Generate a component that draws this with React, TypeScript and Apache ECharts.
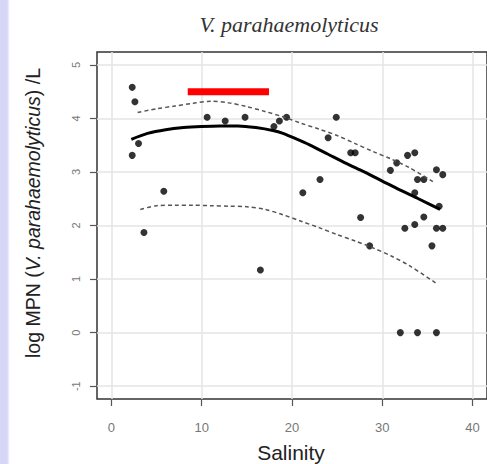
import React, { useEffect, useRef } from "react";
import * as echarts from "echarts";

// Observed samples
const salinity = [2.3, 2.6, 3.0, 2.3, 3.6, 5.8, 10.6, 12.6, 14.8, 16.5, 18.0, 18.6, 19.4, 21.2, 23.1, 24.0, 24.9, 26.5, 27.0, 27.6, 28.6, 30.9, 31.6, 32.0, 32.5, 32.8, 33.6, 33.6, 33.6, 33.9, 33.9, 34.6, 34.6, 35.5, 36.0, 36.0, 36.0, 36.3, 36.7, 36.7];
const logMPN = [4.58, 4.31, 3.53, 3.31, 1.87, 2.64, 4.02, 3.95, 4.02, 1.17, 3.85, 3.95, 4.02, 2.61, 2.86, 3.64, 4.02, 3.36, 3.36, 2.15, 1.62, 3.03, 3.17, 0, 1.95, 3.31, 3.36, 2.61, 2.02, 0, 2.86, 2.86, 2.16, 1.62, 3.04, 1.95, 0, 2.36, 2.95, 1.95];

// Smoothed fit
const fitX = [2.2, 4, 6, 8, 10, 12, 14, 16, 18, 19, 20, 22, 24, 26, 28, 30, 32, 34, 36.4];
const fitY = [3.61, 3.72, 3.79, 3.83, 3.85, 3.86, 3.86, 3.83, 3.77, 3.72, 3.65, 3.50, 3.33, 3.16, 3.0, 2.83, 2.66, 2.50, 2.30];

// Upper band
const upperX = [2.9, 5, 7, 9, 11, 13, 15, 17, 19, 21, 23, 25, 27, 29, 31, 33, 35.6];
const upperY = [4.11, 4.18, 4.23, 4.28, 4.32, 4.29, 4.22, 4.13, 4.03, 3.91, 3.80, 3.68, 3.53, 3.38, 3.24, 3.08, 2.82];

// Lower band
const lowerX = [3.2, 5, 7, 9, 11, 13, 15, 17, 19, 21, 23, 25, 27, 29, 31, 33, 35.9];
const lowerY = [2.30, 2.37, 2.38, 2.38, 2.37, 2.36, 2.35, 2.30, 2.20, 2.08, 1.96, 1.83, 1.71, 1.58, 1.43, 1.25, 0.93];

// Red highlight bar
const markX = [8.45, 17.45];
const markY = [4.5, 4.5];

const xTicks = [0, 10, 20, 30, 40];
const yTicks = [-1, 0, 1, 2, 3, 4, 5];

const zip = (a: number[], b: number[]) => a.map((v, i) => [v, b[i]]);

const SANS = '"Liberation Sans", Arial, sans-serif';
const SERIF = '"Liberation Serif", "Times New Roman", serif';

export default function App() {
  const ref = useRef<HTMLDivElement>(null);
  useEffect(() => {
    if (!ref.current) return;
    const chart = echarts.init(ref.current, undefined, { renderer: "svg" });
    chart.setOption({
      animation: false,
      backgroundColor: "transparent",
      grid: {
        left: 97,
        top: 52,
        width: 399,
        height: 347,
        show: true,
        borderColor: "#333",
        borderWidth: 1.5,
        backgroundColor: "transparent",
      },
      xAxis: {
        type: "value",
        min: -1.6,
        max: 41.6,
        splitNumber: 5,
        axisLine: { show: false, onZero: false },
        axisTick: { show: true, length: 7, customValues: xTicks, lineStyle: { color: "#555", width: 1.2 } },
        axisLabel: { customValues: xTicks, color: "#777", fontSize: 13, fontFamily: SANS, margin: 22 },
        splitLine: { show: true, lineStyle: { color: "#e4e4e4", width: 1.5 } },
      },
      yAxis: {
        type: "value",
        min: -1.24,
        max: 5.24,
        splitNumber: 6,
        axisLine: { show: false, onZero: false },
        axisTick: { show: true, length: 7, customValues: yTicks, lineStyle: { color: "#555", width: 1.2 } },
        axisLabel: {
          customValues: yTicks,
          color: "#777",
          fontSize: 11,
          fontFamily: SANS,
          margin: 16,
          rotate: 90,
          align: "center",
          verticalAlign: "bottom",
        },
        splitLine: { show: true, lineStyle: { color: "#e4e4e4", width: 1.5 } },
      },
      graphic: [
        {
          type: "text",
          x: 289,
          y: 24,
          style: { text: "V. parahaemolyticus", font: `italic 22px ${SERIF}`, fill: "#333", align: "center", verticalAlign: "middle" },
        },
        {
          type: "text",
          x: 33,
          y: 213,
          rotation: Math.PI / 2,
          style: {
            text: "log MPN ({i|V. parahaemolyticus}) /L",
            fontSize: 19.5,
            fontFamily: SANS,
            fill: "#222",
            align: "center",
            verticalAlign: "middle",
            rich: { i: { fontStyle: "italic", fontSize: 19.5, fontFamily: SANS, fill: "#222" } },
          },
        },
        {
          type: "text",
          x: 291,
          y: 452,
          style: { text: "Salinity", fontSize: 21, fontFamily: SANS, fill: "#222", align: "center", verticalAlign: "middle" },
        },
      ],
      series: [
        {
          type: "scatter",
          data: zip(salinity, logMPN),
          symbol: "circle",
          symbolSize: 7,
          itemStyle: { color: "#000" },
          silent: true,
        },
        {
          type: "line",
          data: zip(upperX, upperY),
          showSymbol: false,
          smooth: 0.3,
          lineStyle: { color: "#555", width: 1.5, type: [4, 3] },
          silent: true,
        },
        {
          type: "line",
          data: zip(lowerX, lowerY),
          showSymbol: false,
          smooth: 0.3,
          lineStyle: { color: "#555", width: 1.5, type: [4, 3] },
          silent: true,
        },
        {
          type: "line",
          data: zip(fitX, fitY),
          showSymbol: false,
          smooth: 0.3,
          lineStyle: { color: "#000", width: 3 },
          silent: true,
        },
        {
          type: "line",
          data: zip(markX, markY),
          showSymbol: false,
          lineStyle: { color: "#ff0000", width: 7, cap: "butt" },
          silent: true,
        },
      ],
    });
    return () => chart.dispose();
  }, []);

  return (
    <div style={{ position: "absolute", left: 0, top: 0, width: 487, height: 464, background: "#fff", overflow: "hidden" }}>
      <div style={{ position: "absolute", left: 0, top: 0, width: 10, height: 464, background: "linear-gradient(to right, #d6d6f6 0%, #d6d6f6 70%, #ffffff 100%)" }} />
      <div ref={ref} style={{ position: "absolute", left: 0, top: 0, width: 487, height: 464 }} />
    </div>
  );
}
